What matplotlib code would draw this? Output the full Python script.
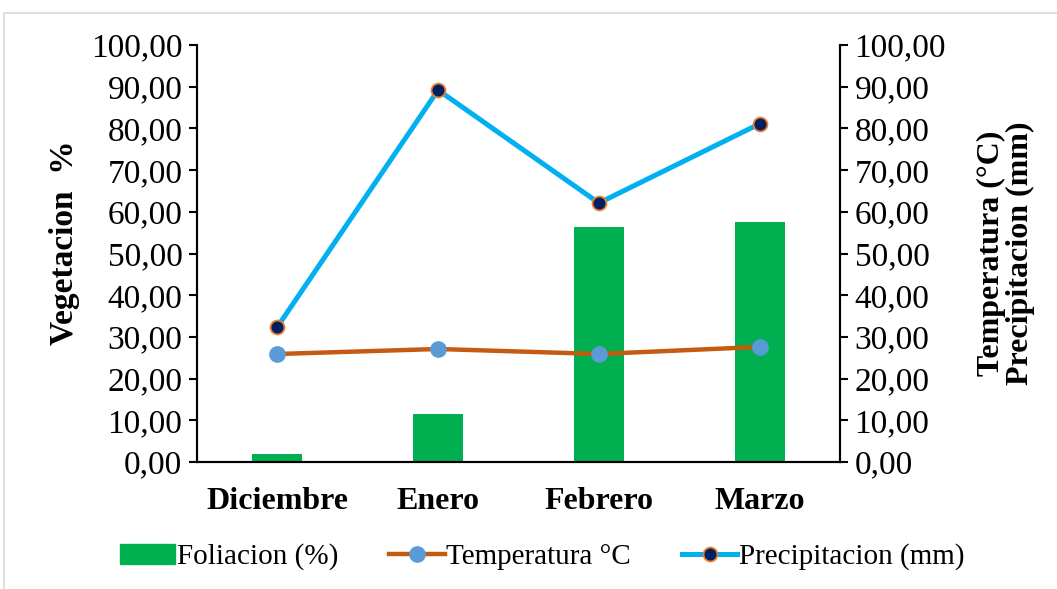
import matplotlib
matplotlib.use("Agg")
import matplotlib.pyplot as plt
from matplotlib.lines import Line2D
from matplotlib.patches import Rectangle

categories = ["Diciembre", "Enero", "Febrero", "Marzo"]
foliacion = [1.9, 11.5, 56.4, 57.6]
temperatura = [25.9, 27.1, 25.9, 27.6]
precipitacion = [32.4, 89.2, 62.1, 81.1]
yticks = [0, 10, 20, 30, 40, 50, 60, 70, 80, 90, 100]
ytick_labels = ["0,00", "10,00", "20,00", "30,00", "40,00", "50,00",
                "60,00", "70,00", "80,00", "90,00", "100,00"]

plt.rcParams['font.family'] = ['Liberation Serif', 'DejaVu Serif']

fig = plt.figure(figsize=(10.57, 5.89), dpi=100)
ax = fig.add_axes([197/1057, 1-462/589, (840-197)/1057, (462-45)/589])
ax2 = ax.twinx()

x = list(range(len(categories)))
ax.bar(x, foliacion, width=0.31, color="#00B050", zorder=2)
ax.set_xlim(-0.5, len(categories)-0.5)
ax.set_ylim(0, 100)
ax2.set_ylim(0, 100)

ax2.plot(x, temperatura, color="#C55A11", lw=3.2, marker="o", ms=11,
         mfc="#5B9BD5", mec="#5B9BD5", zorder=3, solid_capstyle="butt")
ax2.plot(x, precipitacion, color="#00B0F0", lw=3.6, marker="o", ms=10,
         mfc="#002060", mec="#ED7D31", mew=1.3, zorder=3, solid_capstyle="butt")

for a in (ax, ax2):
    a.set_yticks(yticks)
    a.set_yticklabels(ytick_labels, fontsize=24)
    a.tick_params(axis='y', length=5.5, width=1.5, direction='out', pad=5)
    for s in a.spines.values():
        s.set_linewidth(1.5)
    a.spines['top'].set_visible(False)

ax.set_xticks(x)
ax.set_xticklabels(categories, fontsize=23, fontweight='bold')
ax.tick_params(axis='x', length=0, pad=18)

ax.set_ylabel("Vegetacion\u2002%", fontsize=24, fontweight='bold')
ax.yaxis.set_label_coords(-0.182, 0.525)
ax2.set_ylabel("Temperatura (°C)\nPrecipitacion (mm)", fontsize=23,
               fontweight='bold', rotation=90, labelpad=22, linespacing=1.0)

handles = [
    Rectangle((0, 0), 1, 1, color="#00B050"),
    Line2D([], [], color="#C55A11", lw=3.2, marker="o", ms=11,
           mfc="#5B9BD5", mec="#5B9BD5"),
    Line2D([], [], color="#00B0F0", lw=3.6, marker="o", ms=10,
           mfc="#002060", mec="#ED7D31", mew=1.3),
]
labels = ["Foliacion (%)", "Temperatura °C", "Precipitacion (mm)"]
fig.legend(handles, labels, loc="center", bbox_to_anchor=(0.513, 1-557/589),
           ncol=3, frameon=False, fontsize=21, handlelength=1.9,
           handletextpad=0.05, columnspacing=1.75)

fig.add_artist(Rectangle((4/1057, -0.1), 1.2, 1-13/589+0.1,
                         transform=fig.transFigure, fill=False,
                         edgecolor="#D9D9D9", lw=1.2))

fig.savefig("out.png", dpi=100)
